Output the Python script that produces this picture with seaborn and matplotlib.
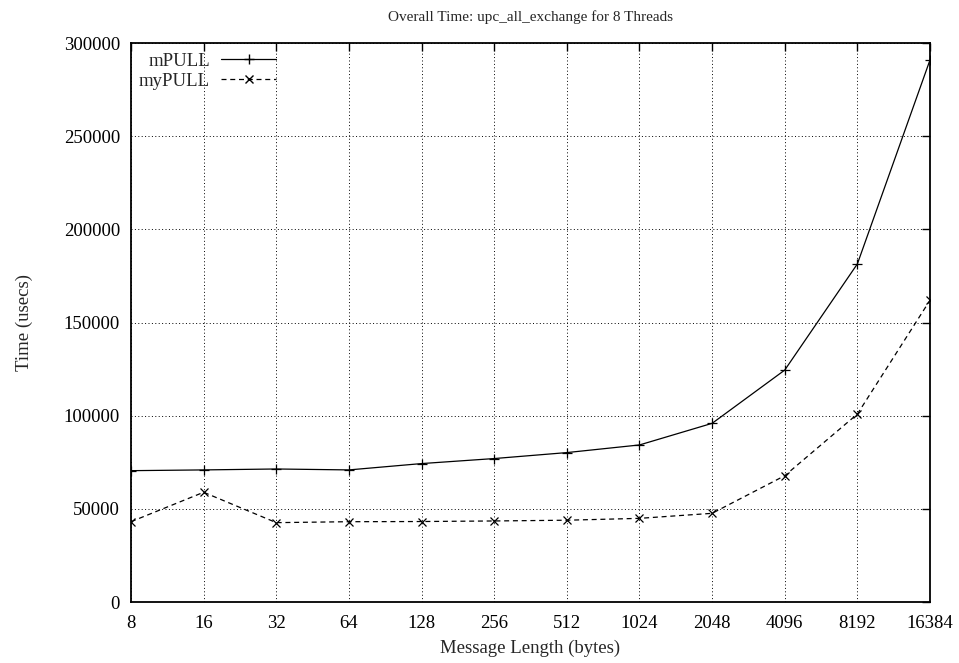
import matplotlib
matplotlib.use("Agg")
import matplotlib.pyplot as plt
from matplotlib.lines import Line2D
import seaborn as sns
import pandas as pd

msg_len = [8, 16, 32, 64, 128, 256, 512, 1024, 2048, 4096, 8192, 16384]
mpull = [70500, 70900, 71400, 70900, 74300, 77000, 80200, 84300, 95900, 124500, 181500, 291000]
mypull = [43100, 58900, 42600, 43100, 43200, 43500, 43900, 44900, 47600, 67800, 100900, 162000]
yticks = [0, 50000, 100000, 150000, 200000, 250000, 300000]

sns.set_theme(style="white")
plt.rcParams["font.family"] = ["Liberation Serif", "DejaVu Serif"]

df_m = pd.DataFrame({"len": msg_len, "time": mpull})
df_y = pd.DataFrame({"len": msg_len, "time": mypull})

fig = plt.figure(figsize=(9.59, 6.63), dpi=100)
ax = fig.add_axes([0.1366, 0.092, 0.8332, 0.843])

sns.lineplot(data=df_m, x="len", y="time", color="black", linewidth=0.9,
             marker="+", markersize=7, markeredgecolor="black",
             markeredgewidth=0.9, ax=ax)
sns.lineplot(data=df_y, x="len", y="time", color="black", linewidth=0.9,
             linestyle=(0, (4, 3)), marker="x", markersize=6,
             markeredgecolor="black", markeredgewidth=0.9, ax=ax)

ax.set_xscale("log", base=2)
ax.set_xlim(8, 16384)
ax.set_ylim(0, 300000)
ax.set_xticks(msg_len)
ax.set_xticklabels([str(v) for v in msg_len])
ax.set_yticks(yticks)
ax.set_yticklabels([str(v) for v in yticks])
ax.minorticks_off()

ax.grid(True, color="black", linestyle=(0, (1, 2.5)), linewidth=0.7)
ax.tick_params(direction="in", length=6, width=1, top=True, right=True,
               labelsize=13.5, colors="black")
ax.tick_params(axis="x", pad=9)
ax.tick_params(axis="y", pad=8)
for s in ax.spines.values():
    s.set_color("black")
    s.set_linewidth(1.3)

ax.set_xlabel("Message Length (bytes)", fontsize=13.5, labelpad=6)
ax.set_ylabel("Time (usecs)", fontsize=13.5, labelpad=22)
ax.set_title("Overall Time: upc_all_exchange for 8 Threads", fontsize=11, pad=16)

handles = [
    Line2D([], [], color="black", linewidth=0.9, marker="+", markersize=7),
    Line2D([], [], color="black", linewidth=0.9, linestyle=(0, (4, 3)),
           marker="x", markersize=6),
]
ax.legend(handles, ["mPULL", "myPULL"], loc="upper left", frameon=False,
          markerfirst=False, fontsize=13.5, handlelength=2.9,
          bbox_to_anchor=(-0.004, 1.003), borderaxespad=0.2,
          labelspacing=0.15, handletextpad=0.6)

fig.savefig("out.png", dpi=100)
